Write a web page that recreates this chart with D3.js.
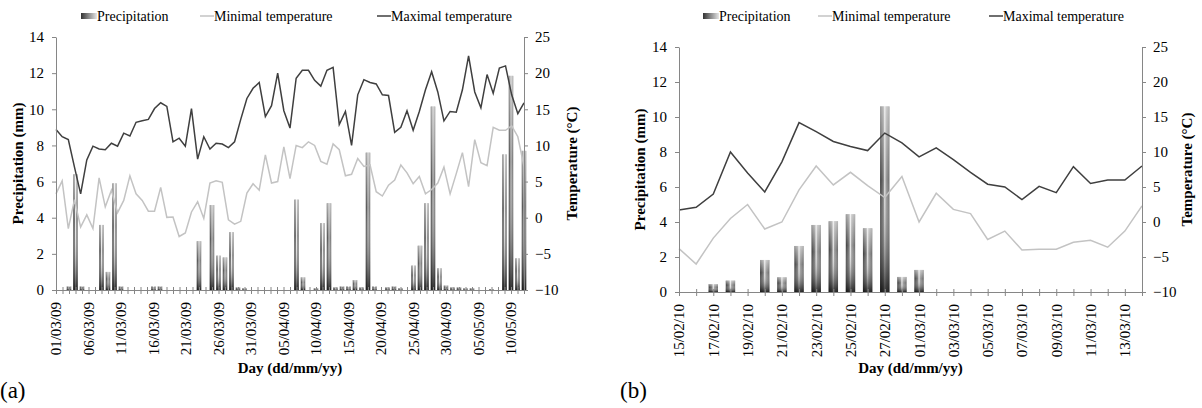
<!DOCTYPE html>
<html>
<head>
<meta charset="utf-8">
<script src="https://cdn.jsdelivr.net/npm/d3@7"></script>
<style>
    body { margin: 0; background: #fff; }
    svg { display: block; font-family: "Liberation Serif", "DejaVu Serif", "Times New Roman", serif; }
</style>
</head>
<body>
<svg id="chart" width="1202" height="408"></svg>
<script>
// (a) spring 2009 : bars are daily from 01/03/09, temperature lines from the same day
const startA = new Date(2009, 2, 1);
const precipA = [0, 0, 0.2, 6.4, 0.2, 0, 0, 3.6, 1.0, 5.9,
    0.2, 0, 0, 0, 0, 0.2, 0.2, 0, 0, 0,
    0, 0, 2.7, 0, 4.7, 1.9, 1.8, 3.2, 0.15, 0.1,
    0, 0, 0, 0, 0, 0, 0, 5.0, 0.7, 0,
    0.1, 3.7, 4.8, 0.15, 0.2, 0.2, 0.55, 0.15, 7.6, 0.2,
    0, 0.15, 0.2, 0.1, 0, 1.35, 2.45, 4.8, 10.15, 1.2,
    0.25, 0.15, 0.15, 0.1, 0.1, 0, 0, 0.05, 0, 7.5,
    11.85, 1.75, 7.7];
const tmaxA = [12.2, 11.2, 10.8, 7.0, 3.3, 8.0, 9.9, 9.5, 9.4, 10.3,
    9.9, 11.7, 11.3, 13.2, 13.4, 13.6, 15.1, 15.9, 15.4, 10.5,
    11.0, 9.9, 15.1, 8.1, 11.2, 9.5, 10.3, 10.2, 9.7, 10.5,
    13.6, 16.5, 17.9, 18.7, 14.0, 15.5, 20.0, 14.8, 12.4, 19.3,
    20.4, 20.4, 19.0, 18.2, 20.4, 20.8, 12.9, 14.7, 10.0, 17.0,
    19.1, 18.7, 18.5, 17.0, 16.9, 11.8, 12.5, 14.8, 12.1, 14.7,
    17.7, 20.2, 17.4, 13.4, 14.7, 14.6, 17.7, 22.4, 17.4, 15.2,
    19.8, 17.2, 20.7, 21.0, 17.0, 14.4, 15.9];
const tminA = [3.3, 5.1, -1.5, 2.5, -1.3, 0.4, -1.5, 5.5, 1.5, 3.8,
    0.7, 2.4, 5.8, 3.3, 2.4, 0.9, 0.9, 4.2, 0.05, 0.1,
    -2.6, -2.1, 0.8, 2.2, -0.1, 4.8, 5.1, 4.9, -0.3, -0.9,
    -0.5, 3.4, 4.7, 3.8, 8.7, 4.8, 5.0, 9.8, 5.4, 10.0,
    9.7, 10.5, 10.0, 7.8, 7.4, 10.2, 9.4, 5.8, 6.0, 8.2,
    7.1, 7.3, 3.6, 3.0, 4.5, 5.2, 7.3, 6.2, 4.7, 5.7,
    3.3, 3.9, 4.8, 7.0, 3.3, 6.1, 9.0, 4.3, 10.8, 7.6,
    7.2, 12.5, 12.1, 12.1, 12.7, 11.2, 7.1];

// (b) winter 2010 : daily from 15/02/10
const startB = new Date(2010, 1, 15);
const precipB = [0, 0, 0.45, 0.65, 0, 1.83, 0.84, 2.63, 3.83, 4.04,
    4.44, 3.64, 10.6, 0.86, 1.26, 0, 0, 0, 0, 0,
    0, 0, 0, 0, 0, 0, 0, 0];
const tmaxB = [1.7, 2.1, 4.0, 10.0, 7.0, 4.3, 8.6, 14.2, 12.9, 11.5,
    10.8, 10.2, 12.7, 11.3, 9.3, 10.6, 8.9, 7.1, 5.4, 5.0,
    3.2, 5.1, 4.2, 7.9, 5.5, 6.0, 6.0, 8.0];
const tminB = [-3.8, -6.0, -2.3, 0.5, 2.5, -1.0, 0.0, 4.6, 8.0, 5.3,
    7.1, 5.2, 3.5, 6.5, 0.0, 4.1, 1.8, 1.2, -2.5, -1.3,
    -4.0, -3.9, -3.9, -2.9, -2.6, -3.6, -1.3, 2.3];

const precipTicks = [0, 2, 4, 6, 8, 10, 12, 14];
const tempTicks = [-10, -5, 0, 5, 10, 15, 20, 25];
const legendLabels = ["Precipitation", "Minimal temperature", "Maximal temperature"];

const fmt = d3.timeFormat("%d/%m/%y");
const days = (start, n) => d3.timeDay.range(start, d3.timeDay.offset(start, n)).map(fmt);

const axisColor = "#868686";
const svg = d3.select("#chart");
svg.append("rect").attr("width", 1202).attr("height", 408).attr("fill", "#fff");

// gradients for the cylinder-like columns
const defs = svg.append("defs");
const gH = defs.append("linearGradient").attr("id", "barH");
[["0%", "#3c3c3c"], ["35%", "#7c7c7c"], ["50%", "#e8e8e8"], ["62%", "#a0a0a0"], ["100%", "#6a6a6a"]]
    .forEach(([o, c]) => gH.append("stop").attr("offset", o).attr("stop-color", c));
const gV = defs.append("linearGradient").attr("id", "barV").attr("x2", 0).attr("y2", 1);
[["0%", "#fff", 0.5], ["40%", "#fff", 0], ["100%", "#000", 0.7]]
    .forEach(([o, c, a]) => gV.append("stop").attr("offset", o).attr("stop-color", c).attr("stop-opacity", a));
const gL = defs.append("linearGradient").attr("id", "legendGrad");
[["0%", "#333"], ["100%", "#e6e6e6"]]
    .forEach(([o, c]) => gL.append("stop").attr("offset", o).attr("stop-color", c));

drawPanel({
    left: 56, right: 524, top: 37, bottom: 290, barWidth: 4.5, labelStep: 5,
    barDays: days(startA, precipA.length), lineDays: days(startA, tmaxA.length),
    precip: precipA, tmax: tmaxA, tmin: tminA,
    leftTitleX: 23, rightTitleX: 577, legendX: [81, 200, 377], tag: "(a)", tagX: 0
});
drawPanel({
    left: 679, right: 1142, top: 47, bottom: 292, barWidth: 9.4, labelStep: 2,
    barDays: days(startB, precipB.length), lineDays: days(startB, tmaxB.length),
    precip: precipB, tmax: tmaxB, tmin: tminB,
    leftTitleX: 645, rightTitleX: 1192, legendX: [703, 818, 989], tag: "(b)", tagX: 620
});

function drawPanel(p) {
    const yP = d3.scaleLinear().domain([0, 14]).range([p.bottom, p.top]);
    const yT = d3.scaleLinear().domain([-10, 25]).range([p.bottom, p.top]);
    const xBar = d3.scalePoint().domain(p.barDays).range([p.left, p.right]);
    const xLine = d3.scalePoint().domain(p.lineDays).range([p.left, p.right]);
    const g = svg.append("g");

    // columns
    const bars = g.append("g").selectAll("g")
        .data(p.precip.map((v, i) => ({ day: p.barDays[i], v })).filter(d => d.v > 0))
        .enter().append("g");
    ["url(#barH)", "url(#barV)"].forEach(fill => {
        bars.append("rect")
            .attr("x", d => xBar(d.day) - p.barWidth / 2)
            .attr("y", d => yP(d.v))
            .attr("width", p.barWidth)
            .attr("height", d => yP(0) - yP(d.v))
            .attr("fill", fill);
    });

    // temperature lines
    const line = d3.line().x((d, i) => xLine(p.lineDays[i])).y(d => yT(d));
    g.append("path").datum(p.tmin).attr("d", line)
        .attr("fill", "none").attr("stroke", "#c3c3c3").attr("stroke-width", 1.5);
    g.append("path").datum(p.tmax).attr("d", line)
        .attr("fill", "none").attr("stroke", "#3f3f3f").attr("stroke-width", 1.5);

    // axes
    const styleAxis = sel => {
        sel.attr("font-family", null).attr("font-size", null);
        sel.select(".domain").attr("stroke", axisColor);
        sel.selectAll(".tick line").attr("stroke", axisColor);
        sel.selectAll(".tick text").attr("fill", "#000").style("font-size", "15px");
    };
    g.append("g").attr("transform", `translate(${p.left},0)`)
        .call(d3.axisLeft(yP).tickValues(precipTicks).tickSize(4).tickSizeOuter(0).tickPadding(8))
        .call(styleAxis);
    g.append("g").attr("transform", `translate(${p.right},0)`)
        .call(d3.axisRight(yT).tickValues(tempTicks).tickSize(4).tickSizeOuter(0).tickPadding(7))
        .call(styleAxis);
    const xAxis = g.append("g").attr("transform", `translate(0,${p.bottom})`)
        .call(d3.axisBottom(xBar).tickSize(4).tickSizeOuter(0)
            .tickFormat((d, i) => i % p.labelStep === 0 ? d : ""))
        .call(styleAxis);
    xAxis.selectAll(".tick line").attr("y1", -3);
    xAxis.selectAll(".tick text")
        .attr("transform", "rotate(-90)")
        .attr("x", -12).attr("y", 0).attr("dy", "0.33em")
        .style("text-anchor", "end");

    // titles
    const midY = (p.top + p.bottom) / 2;
    g.append("text").attr("transform", `translate(${p.leftTitleX},${midY}) rotate(-90)`)
        .attr("text-anchor", "middle").style("font-size", "15px").style("font-weight", "bold")
        .text("Precipitation (mm)");
    g.append("text").attr("transform", `translate(${p.rightTitleX},${midY}) rotate(-90)`)
        .attr("text-anchor", "middle").style("font-size", "15px").style("font-weight", "bold")
        .text("Temperature (°C)");
    g.append("text").attr("x", (p.left + p.right) / 2).attr("y", 373)
        .attr("text-anchor", "middle").style("font-size", "15px").style("font-weight", "bold")
        .text("Day (dd/mm/yy)");
    g.append("text").attr("x", p.tagX).attr("y", 398).style("font-size", "23px").text(p.tag);

    // legend
    const lg = g.append("g").style("font-size", "14px");
    lg.append("rect").attr("x", p.legendX[0]).attr("y", 13).attr("width", 16).attr("height", 6)
        .attr("fill", "url(#legendGrad)");
    lg.append("line").attr("x1", p.legendX[1]).attr("x2", p.legendX[1] + 14).attr("y1", 16).attr("y2", 16)
        .attr("stroke", "#c3c3c3").attr("stroke-width", 1.5);
    lg.append("line").attr("x1", p.legendX[2]).attr("x2", p.legendX[2] + 14).attr("y1", 16).attr("y2", 16)
        .attr("stroke", "#3f3f3f").attr("stroke-width", 1.5);
    lg.selectAll("text.leg").data(legendLabels).enter().append("text")
        .attr("class", "leg")
        .attr("x", (d, i) => p.legendX[i] + (i === 0 ? 16 : 14))
        .attr("y", 21)
        .text(d => d);
}
</script>
</body>
</html>
